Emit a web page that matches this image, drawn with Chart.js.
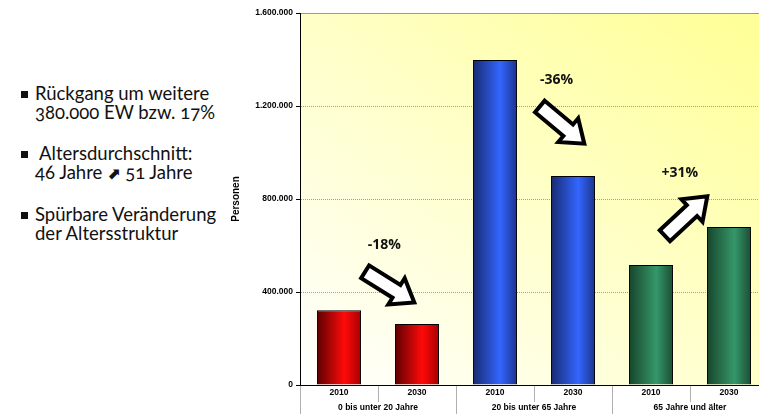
<!DOCTYPE html>
<html lang="de">
<head>
    <meta charset="UTF-8">
    <title>Bevölkerung nach Altersgruppen 2010 / 2030</title>
    <script src="https://cdn.jsdelivr.net/npm/chart.js"></script>
    <style>
        html, body {
            margin: 0;
            padding: 0;
            background: #ffffff;
            width: 759px;
            height: 414px;
            overflow: hidden;
        }
        #facts {
            position: absolute;
            left: 20px;
            top: 84px;
            margin: 0;
            padding: 0;
            list-style: none;
            font-family: Lato, "Noto Sans", sans-serif;
            font-variant-numeric: oldstyle-nums;
            font-size: 18.5px;
            line-height: 19px;
            color: #111;
        }
        #facts li {
            position: relative;
            padding-left: 15px;
            margin-bottom: 22px;
        }
        #facts li:before {
            content: "";
            position: absolute;
            left: 1px;
            top: 7px;
            width: 7px;
            height: 7px;
            background: #111;
        }
        .arrow {
            font-family: "DejaVu Sans", sans-serif;
            font-weight: bold;
            font-size: 16px;
        }
        #chart-box {
            position: absolute;
            left: 220px;
            top: 0;
        }
    </style>
</head>
<body>
    <ul id="facts">
        <li>Rückgang um weitere<br>380.000 EW bzw. 17%</li>
        <li>&nbsp;Altersdurchschnitt:<br>46 Jahre <span class="arrow">⬈</span> 51 Jahre</li>
        <li>Spürbare Veränderung<br>der Altersstruktur</li>
    </ul>

    <div id="chart-box">
        <canvas id="popChart" width="548" height="414"></canvas>
    </div>

    <script>
        // Data
        const years = ['2010', '2030', '2010', '2030', '2010', '2030'];
        const ageGroups = ['0 bis unter 20 Jahre', '20 bis unter 65 Jahre', '65 Jahre und älter'];
        const persons = [322000, 262000, 1398000, 899000, 516000, 680000];
        const yTicks = [0, 400000, 800000, 1200000, 1600000];
        const changeLabels = ['-18%', '-36%', '+31%'];

        // Annotation placement (category index, value) and arrow direction in degrees
        const notes = [
            { text: changeLabels[0], labelAt: [0.58, 602000], arrowAt: [0.65, 421000], angle: 32 },
            { text: changeLabels[1], labelAt: [2.79, 1312000], arrowAt: [2.86, 1118000], angle: 40 },
            { text: changeLabels[2], labelAt: [4.37, 912000], arrowAt: [4.45, 727000], angle: -43 }
        ];

        // Cylinder style colours per age group: [edge left, highlight, edge right]
        const groupShades = [
            ['#5c0000', '#ff0a0a', '#a80000'],
            ['#182a70', '#3366ff', '#1b338c'],
            ['#17452b', '#35976a', '#1b4e33']
        ];

        const BAR_PCT = 0.565;

        function germanNumber(v) {
            return String(v).replace(/\B(?=(\d{3})+(?!\d))/g, '.');
        }

        function barFill(ctx) {
            const chart = ctx.chart;
            const xs = chart.scales.x;
            const shade = groupShades[Math.floor(ctx.dataIndex / 2)];
            if (!xs || !chart.chartArea) return shade[1];
            const cx = xs.getPixelForValue(ctx.dataIndex);
            const w = xs.width / years.length * BAR_PCT;
            const g = chart.ctx.createLinearGradient(cx - w / 2, 0, cx + w / 2, 0);
            g.addColorStop(0, shade[0]);
            g.addColorStop(0.62, shade[1]);
            g.addColorStop(1, shade[2]);
            return g;
        }

        // plot background and top border
        const plotBackground = {
            id: 'plotBackground',
            beforeDraw(chart) {
                const { ctx, chartArea: a } = chart;
                ctx.save();
                const g = ctx.createLinearGradient(a.left, a.bottom, a.left + a.width * 0.7, a.top - a.width * 0.15);
                g.addColorStop(0, '#ffffff');
                g.addColorStop(1, '#ffff99');
                ctx.fillStyle = g;
                ctx.fillRect(a.left, a.top, a.width, a.height);
                ctx.strokeStyle = '#9a9a9a';
                ctx.lineWidth = 1;
                ctx.beginPath();
                ctx.moveTo(a.left, a.top + 0.5);
                ctx.lineTo(a.right, a.top + 0.5);
                ctx.stroke();
                ctx.restore();
            }
        };

        // block arrows and percentage labels
        const changeNotes = {
            id: 'changeNotes',
            afterDatasetsDraw(chart) {
                const { ctx } = chart;
                const xs = chart.scales.x, ys = chart.scales.y;
                const px = (i) => xs.left + (i + 0.5) * xs.width / years.length;
                ctx.save();
                notes.forEach(n => {
                    // arrow
                    const ax = px(n.arrowAt[0]), ay = ys.getPixelForValue(n.arrowAt[1]);
                    const L = 58, sh = 7.5, hh = 15.5, hl = 21;
                    ctx.save();
                    ctx.translate(ax, ay);
                    ctx.rotate(n.angle * Math.PI / 180);
                    ctx.beginPath();
                    ctx.moveTo(-L / 2, -sh);
                    ctx.lineTo(L / 2 - hl, -sh);
                    ctx.lineTo(L / 2 - hl, -hh);
                    ctx.lineTo(L / 2, 0);
                    ctx.lineTo(L / 2 - hl, hh);
                    ctx.lineTo(L / 2 - hl, sh);
                    ctx.lineTo(-L / 2, sh);
                    ctx.closePath();
                    ctx.fillStyle = '#ffffff';
                    ctx.fill();
                    ctx.lineJoin = 'miter';
                    ctx.lineWidth = 4;
                    ctx.strokeStyle = '#000000';
                    ctx.stroke();
                    ctx.restore();
                    // label
                    ctx.font = 'bold 14px "Open Sans", Lato, sans-serif';
                    ctx.fillStyle = '#111';
                    ctx.textAlign = 'center';
                    ctx.textBaseline = 'middle';
                    ctx.fillText(n.text, px(n.labelAt[0]), ys.getPixelForValue(n.labelAt[1]));
                });
                ctx.restore();
            }
        };

        const tickFont = { family: 'Liberation Sans, Arial, sans-serif', size: 8.5, weight: 'bold' };

        new Chart(document.getElementById('popChart'), {
            type: 'bar',
            data: {
                labels: years,
                datasets: [{
                    label: 'Personen',
                    data: persons,
                    backgroundColor: barFill,
                    borderColor: '#000000',
                    borderWidth: 1,
                    borderSkipped: 'bottom',
                    barPercentage: BAR_PCT,
                    categoryPercentage: 1
                }]
            },
            options: {
                responsive: false,
                animation: false,
                layout: { padding: { top: 13, right: 0, bottom: 0, left: 0 } },
                plugins: {
                    legend: { display: false },
                    tooltip: { enabled: false }
                },
                scales: {
                    x: {
                        type: 'category',
                        position: 'bottom',
                        offset: true,
                        grid: {
                            offset: true,
                            drawOnChartArea: false,
                            color: '#b0b0b0',
                            tickLength: 17
                        },
                        border: { display: true, color: '#000000', width: 1 },
                        ticks: {
                            font: tickFont,
                            color: '#000',
                            padding: -14,
                            maxRotation: 0,
                            autoSkip: false
                        },
                        afterFit(scale) { scale.height = 16; }
                    },
                    x2: {
                        type: 'category',
                        position: 'bottom',
                        labels: ageGroups,
                        offset: true,
                        grid: {
                            offset: true,
                            drawOnChartArea: false,
                            color: '#b0b0b0',
                            tickLength: 13
                        },
                        border: { display: false },
                        ticks: {
                            font: tickFont,
                            color: '#000',
                            padding: -11,
                            maxRotation: 0,
                            autoSkip: false
                        },
                        afterFit(scale) { scale.height = 13; }
                    },
                    y: {
                        min: 0,
                        max: 1600000,
                        afterBuildTicks(scale) {
                            scale.ticks = yTicks.map(v => ({ value: v }));
                        },
                        grid: {
                            color: (c) => (c.tick && (c.tick.value === 0 || c.tick.value === 1600000)) ? 'rgba(0,0,0,0)' : '#a0a0a0',
                            lineWidth: 1,
                            tickColor: '#000000',
                            tickLength: 4
                        },
                        border: { display: true, color: '#000000', width: 1, dash: [1, 1] },
                        ticks: {
                            font: tickFont,
                            color: '#000',
                            padding: 3,
                            callback: (v) => germanNumber(v)
                        },
                        title: {
                            display: true,
                            text: 'Personen',
                            color: '#000',
                            font: { family: 'Liberation Sans, Arial, sans-serif', size: 10, weight: 'bold' },
                            padding: { top: 10, bottom: 0 }
                        },
                        afterFit(scale) { scale.width = 80; }
                    }
                }
            },
            plugins: [plotBackground, changeNotes]
        });
    </script>
</body>
</html>
